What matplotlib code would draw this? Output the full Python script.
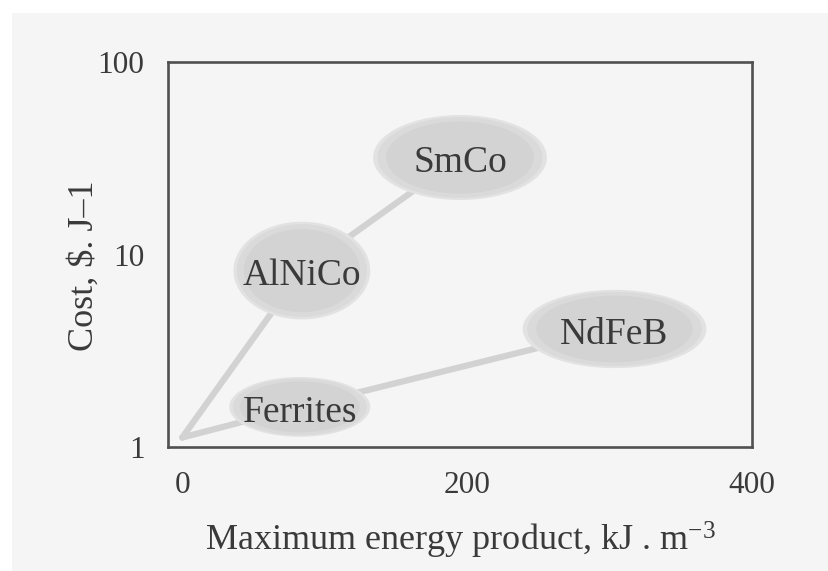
import numpy as np
import matplotlib
matplotlib.use("Agg")
import matplotlib.pyplot as plt
from matplotlib.patches import Rectangle
from matplotlib.transforms import offset_copy

plt.rcParams['font.family'] = ['Liberation Serif', 'DejaVu Serif']
plt.rcParams['mathtext.fontset'] = 'custom'
plt.rcParams['mathtext.rm'] = 'Liberation Serif'
plt.rcParams['mathtext.it'] = 'Liberation Serif'

# Magnet families: ranges of maximum energy product (kJ/m^3) and cost ($/J)
materials = ["Ferrites", "AlNiCo", "SmCo", "NdFeB"]
bh_low = [33, 36, 134, 239]
bh_high = [132, 132, 256, 368]
cost_low = [1.13, 4.6, 19.2, 2.57]
cost_high = [2.31, 14.8, 53.0, 6.55]

# Development paths between families, starting near the origin
origin_bh, origin_cost = 0, 1.12
paths = [["Ferrites", "NdFeB"], ["AlNiCo", "SmCo"]]

x_ticks = [0, 200, 400]
y_ticks = [1, 10, 100]

ink = '#3a3a3a'

fig = plt.figure(figsize=(8.29, 5.71), dpi=100, facecolor='white')
fig.patches.append(Rectangle((12, 0), 829 - 12, 571 - 13, transform=None,
                             facecolor='#f5f5f5', edgecolor='none', zorder=-10))
ax = fig.add_axes([168 / 829, 1 - 447 / 571, 584 / 829, 385 / 571])
ax.set_facecolor('none')
ax.set_yscale('log')
ax.set_xlim(-10, 400)
ax.set_ylim(1, 100)


def centre(i):
    return (bh_low[i] + bh_high[i]) / 2, np.sqrt(cost_low[i] * cost_high[i])


# connecting paths
for chain in paths:
    xs, ys = [origin_bh], [origin_cost]
    for name in chain:
        cx, cy = centre(materials.index(name))
        xs.append(cx)
        ys.append(cy)
    ax.plot(xs, ys, color='#d2d2d2', lw=4.5, solid_capstyle='round', zorder=1)

# fuzzy elliptical regions, one per family
t = np.linspace(0, 2 * np.pi, 200)
for i, name in enumerate(materials):
    cx = (bh_low[i] + bh_high[i]) / 2
    ax_w = (bh_high[i] - bh_low[i]) / 2
    lc = (np.log10(cost_low[i]) + np.log10(cost_high[i])) / 2
    lh = (np.log10(cost_high[i]) - np.log10(cost_low[i])) / 2
    for scale, col in [(1.0, '#e2e2e2'), (0.95, '#dadada'), (0.85, '#d3d3d3')]:
        ex = cx + scale * ax_w * np.cos(t)
        ey = 10 ** (lc + scale * lh * np.sin(t))
        ax.fill(ex, ey, color=col, lw=0, zorder=2)
    tr = offset_copy(ax.transData, fig=fig, x=0, y=-4, units='points')
    ax.text(cx, 10 ** lc, name, transform=tr, ha='center', va='center',
            fontsize=27, color=ink, zorder=3)

for s in ax.spines.values():
    s.set_color('#505050')
    s.set_linewidth(1.9)

ax.set_xticks(x_ticks)
ax.set_xticklabels([str(v) for v in x_ticks])
ax.set_yticks(y_ticks)
ax.set_yticklabels([str(v) for v in y_ticks])
ax.yaxis.set_minor_locator(matplotlib.ticker.NullLocator())
ax.tick_params(axis='both', length=0, labelsize=22.5, labelcolor=ink)
ax.tick_params(axis='x', pad=17)
ax.tick_params(axis='y', pad=17)

fig.text(460 / 829, 1 - 540 / 571, "Maximum energy product, kJ . m$^{-3}$",
         ha='center', va='center', fontsize=26, color=ink)
fig.text(84 / 829, 1 - 266 / 571, "Cost, $. J\u20131", rotation=90,
         ha='center', va='center', fontsize=26, color=ink)

fig.savefig("out.png", dpi=100, facecolor=fig.get_facecolor())
